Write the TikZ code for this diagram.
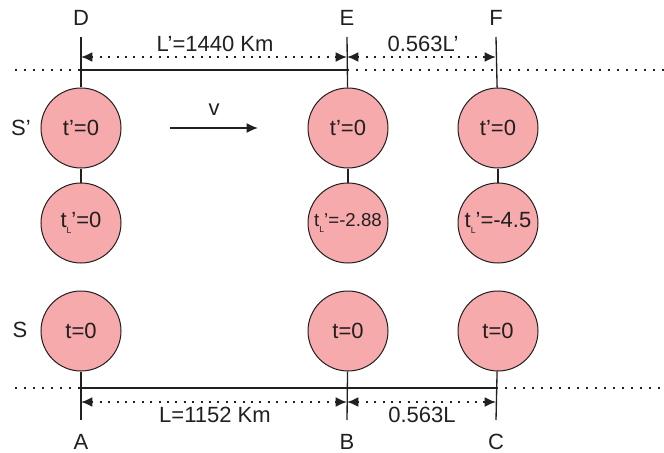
\documentclass[tikz,border=0pt]{standalone}
\usepackage{fontspec}
\setmainfont{Liberation Sans}
\usepackage{tikz}
\usetikzlibrary{positioning,arrows.meta}
\definecolor{clockfill}{RGB}{246,170,172}
\definecolor{inkline}{RGB}{35,31,32}
\newcommand{\tsubL}{t\raisebox{-4.6pt}{\fontsize{6.5}{7}\selectfont L}}
\tikzset{
  clock/.style={circle,draw=inkline,line width=0.75pt,fill=clockfill,minimum size=60pt,inner sep=0pt,text=inkline,font=\fontsize{16.5}{19}\selectfont},
  lbl/.style={inner sep=0pt,text=inkline,font=\fontsize{16.5}{19}\selectfont},
  tick/.style={draw=inkline,line width=1pt},
  rail/.style={draw=inkline,line width=1.3pt},
  dotrail/.style={draw=inkline,line width=1.5pt,dash pattern=on 1.5pt off 5.25pt},
  dimline/.style={{Latex[length=8.5pt,width=7.5pt]}-{Latex[length=8.5pt,width=7.5pt]},draw=inkline,line width=1.5pt,dash pattern=on 1.5pt off 4.8pt},
  edge/.style={-{Latex[length=8.5pt,width=7.5pt]},draw=inkline,line width=1.2pt}
}
\begin{document}
\begin{tikzpicture}[x=0.75pt,y=-0.75pt,node distance=10.5pt]
  \useasboundingbox (0,0) rectangle (664,453);
  % clocks carried by S'
  \node[clock] (sp1) at (81,128) {t'=0};
  \node[clock,right=139.5pt of sp1] (sp2) {t'=0};
  \node[clock,right=51.75pt of sp2] (sp3) {t'=0};
  \node[clock,below=of sp1] (tl1) {\tsubL'=0};
  \node[clock,below=of sp2,font=\fontsize{14}{16}\selectfont] (tl2) {\tsubL'=-2.88};
  \node[clock,below=of sp3] (tl3) {\tsubL'=-4.5};
  % clocks at rest in S
  \node[clock,below=20.25pt of tl1] (s1) {t=0};
  \node[clock,below=20.25pt of tl2] (s2) {t=0};
  \node[clock,below=20.25pt of tl3] (s3) {t=0};
  \node[lbl] (Sp) at (21,128) {S'};
  \node[lbl] (S) at (20,330) {S};
  % point labels
  \node[lbl] (D) at (81,18) {D};
  \node[lbl] (E) at (347,18) {E};
  \node[lbl] (F) at (496,18) {F};
  \node[lbl] (A) at (81,442) {A};
  \node[lbl] (B) at (347,442) {B};
  \node[lbl] (C) at (496,442) {C};
  \coordinate (Dt) at (81,37);
  \coordinate (Et) at (347,37);
  \coordinate (Ft) at (496,37);
  \coordinate (Ab) at (81,420);
  \coordinate (Bb) at (347,420);
  \coordinate (Cb) at (496,420);
  \draw[tick] (Dt) -- (sp1);
  \draw[tick] (Et) -- (sp2);
  \draw[tick] (Ft) -- (sp3);
  \draw[tick] (sp1) -- (tl1);
  \draw[tick] (sp2) -- (tl2);
  \draw[tick] (sp3) -- (tl3);
  \draw[tick] (s1) -- (Ab);
  \draw[tick] (s2) -- (Bb);
  \draw[tick] (s3) -- (Cb);
  % rails
  \coordinate (Ltop) at (15,70);
  \coordinate (Dr) at (81,70);
  \coordinate (Er) at (347,70);
  \coordinate (Rtop) at (664,70);
  \coordinate (Lbot) at (15,388);
  \coordinate (Ar) at (81,388);
  \coordinate (Cr) at (496,388);
  \coordinate (Rbot) at (664,388);
  \draw[dotrail] (Ltop) -- (Dr);
  \draw[rail] (Dr) -- (Er);
  \draw[dotrail] (Er) -- (Rtop);
  \draw[dotrail] (Lbot) -- (Ar);
  \draw[rail] (Ar) -- (Cr);
  \draw[dotrail] (Cr) -- (Rbot);
  % lengths
  \coordinate (Dd) at (81,57);
  \coordinate (Ed) at (347,57);
  \coordinate (Fd) at (496,57);
  \coordinate (Ad) at (81,402);
  \coordinate (Bd) at (347,402);
  \coordinate (Cd) at (496,402);
  \draw[dimline] (Dd) -- (Ed);
  \draw[dimline] (Ed) -- (Fd);
  \draw[dimline] (Ad) -- (Bd);
  \draw[dimline] (Bd) -- (Cd);
  \node[lbl] (lp) at (215,44) {L'=1440 Km};
  \node[lbl] (kp) at (423,44) {0.563L'};
  \node[lbl] (l) at (215,415) {L=1152 Km};
  \node[lbl] (k) at (422,415) {0.563L};
  % velocity of S'
  \coordinate (vs) at (170,128);
  \coordinate (ve) at (258,128);
  \draw[edge] (vs) -- (ve);
  \node[lbl] (v) at (214,110) {v};
\end{tikzpicture}
\end{document}
